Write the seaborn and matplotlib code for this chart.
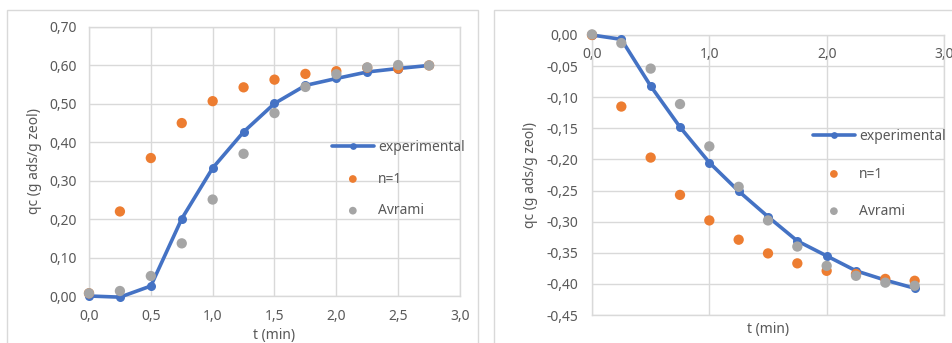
import matplotlib
matplotlib.use("Agg")
import matplotlib.pyplot as plt
from matplotlib.ticker import FuncFormatter, MultipleLocator
from matplotlib.patches import Rectangle
import seaborn as sns

# time points (min)
t = [0.0, 0.25, 0.5, 0.75, 1.0, 1.25, 1.5, 1.75, 2.0, 2.25, 2.5, 2.75]

# left chart: adsorption
ads_exp = [0.0, -0.003, 0.026, 0.201, 0.333, 0.427, 0.501, 0.548, 0.566, 0.583, 0.592, 0.600]
ads_n1 = [0.007, 0.220, 0.359, 0.450, 0.507, 0.543, 0.563, 0.578, 0.585, 0.594, 0.592, 0.600]
ads_avrami = [0.007, 0.013, 0.052, 0.137, 0.251, 0.370, 0.476, 0.544, 0.577, 0.595, 0.601, 0.600]

# right chart: desorption
des_exp = [0.0, -0.007, -0.082, -0.148, -0.205, -0.251, -0.292, -0.331, -0.355, -0.379, -0.394, -0.407]
des_n1 = [0.0, -0.115, -0.197, -0.257, -0.298, -0.329, -0.351, -0.367, -0.379, -0.384, -0.392, -0.395]
des_avrami = [0.001, -0.013, -0.054, -0.111, -0.179, -0.244, -0.298, -0.340, -0.371, -0.387, -0.398, -0.403]

BLUE = "#4472C4"
ORANGE = "#ED7D31"
GRAY = "#A5A5A5"
TEXT = "#595959"
GRID = "#D9D9D9"

sns.set_style("white")
plt.rcParams["font.family"] = ["Noto Sans", "DejaVu Sans"]
plt.rcParams["font.size"] = 10

fig = plt.figure(figsize=(9.53, 3.43), dpi=100)

# chart borders like the spreadsheet frames
fig.patches.append(Rectangle((7 / 953, -0.1), 471 / 953, 1.1 - 10 / 343, transform=fig.transFigure,
                             fill=False, edgecolor=GRID, lw=1))
fig.patches.append(Rectangle((494 / 953, -0.1), 0.6, 1.1 - 10 / 343, transform=fig.transFigure,
                             fill=False, edgecolor=GRID, lw=1))

ax1 = fig.add_axes([89 / 953, 1 - 296 / 343, 371 / 953, 269 / 343])
ax2 = fig.add_axes([592 / 953, 1 - 315 / 343, 352 / 953, 280 / 343])


def comma(fmt):
    return FuncFormatter(lambda v, p: format(v, fmt).replace(".", ","))


def draw(ax, y_exp, y_n1, y_av):
    sns.lineplot(x=t, y=y_exp, ax=ax, color=BLUE, lw=2.6, marker="o", markersize=6.5,
                 markeredgewidth=0, label="experimental", zorder=3, clip_on=False)
    sns.scatterplot(x=t, y=y_n1, ax=ax, color=ORANGE, s=55, edgecolor="none", label="n=1",
                    zorder=4, clip_on=False)
    sns.scatterplot(x=t, y=y_av, ax=ax, color=GRAY, s=55, edgecolor="none", label="Avrami",
                    zorder=5, clip_on=False)
    ax.grid(True, color=GRID, lw=1)
    ax.set_axisbelow(True)
    for s in ax.spines.values():
        s.set_color(GRID)
        s.set_linewidth(1)
    ax.tick_params(length=0, colors=TEXT, labelsize=10)
    ax.set_ylabel("qc (g ads/g zeol)", color=TEXT, fontsize=10)
    ax.set_xlabel("t (min)", color=TEXT, fontsize=10)


draw(ax1, ads_exp, ads_n1, ads_avrami)
ax1.set_xlim(0, 3)
ax1.set_ylim(0, 0.7)
ax1.xaxis.set_major_locator(MultipleLocator(0.5))
ax1.yaxis.set_major_locator(MultipleLocator(0.1))
ax1.xaxis.set_major_formatter(comma(".1f"))
ax1.yaxis.set_major_formatter(comma(".2f"))
ax1.tick_params(axis="x", pad=9)
ax1.tick_params(axis="y", pad=9)
ax1.xaxis.labelpad = 3
ax1.yaxis.labelpad = 5
ax1.legend(loc="upper left", bbox_to_anchor=(0.655, 0.58), frameon=False, borderpad=0,
           borderaxespad=0, handlelength=3.0, handletextpad=0.3, labelspacing=1.2,
           labelcolor=TEXT, fontsize=10, markerscale=0.75)

draw(ax2, des_exp, des_n1, des_avrami)
ax2.set_xlim(0, 3)
ax2.set_ylim(-0.45, 0)
ax2.xaxis.set_major_locator(MultipleLocator(1.0))
ax2.yaxis.set_major_locator(MultipleLocator(0.05))
ax2.xaxis.set_major_formatter(comma(".1f"))
ax2.yaxis.set_major_formatter(comma(".2f"))
ax2.tick_params(axis="x", top=False, bottom=False, labeltop=True, labelbottom=False, pad=-19.5)
ax2.tick_params(axis="y", pad=10)
ax2.xaxis.set_label_position("bottom")
ax2.xaxis.labelpad = 5
ax2.yaxis.labelpad = 6
ax2.legend(loc="upper left", bbox_to_anchor=(0.628, 0.663), frameon=False, borderpad=0,
           borderaxespad=0, handlelength=3.0, handletextpad=0.3, labelspacing=1.6,
           labelcolor=TEXT, fontsize=10, markerscale=0.75)

fig.savefig("out.png", dpi=100, facecolor="white")
